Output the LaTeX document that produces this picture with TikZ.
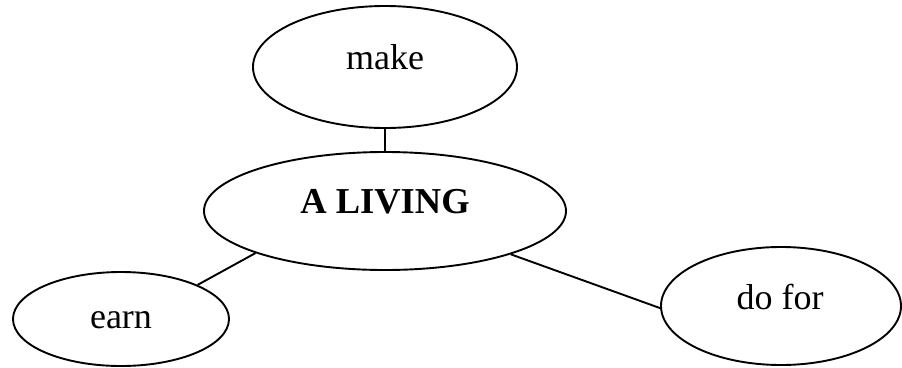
\documentclass[tikz,border=0pt]{standalone}
\usepackage{fontspec}
\setmainfont{Liberation Serif}
\usetikzlibrary{shapes.geometric}

\tikzset{
  bubble/.style={draw, ellipse, line width=1.9pt, inner sep=0pt},
  word/.style={anchor=base, inner sep=0pt, font=\fontsize{36}{40}\selectfont},
  link/.style={line width=1.9pt}
}

\begin{document}
\begin{tikzpicture}[x=1pt, y=-1pt]
  \useasboundingbox (0,0) rectangle (902,367);

  % ellipses
  \node[bubble, minimum width=264pt, minimum height=122pt] (make)   at (385,67)  {};
  \node[bubble, minimum width=362pt, minimum height=118pt] (living) at (385,211) {};
  \node[bubble, minimum width=216pt, minimum height=94pt]  (earn)   at (121,319) {};
  \node[bubble, minimum width=240pt, minimum height=118pt] (dofor)  at (781,306) {};

  % labels
  \node[word] (maketext)   at (385,69)  {make};
  \node[word, font=\fontsize{36.5}{40}\selectfont\bfseries] (livingtext) at (385,213) {A LIVING};
  \node[word] (earntext)   at (121,328) {earn};
  \node[word] (dofortext)  at (780,309) {do for};

  % connectors
  \draw[link] (make.south) -- (living.north);
  \draw[link] (earn.24) -- (living.198);
  \draw[link] (living.341) -- (dofor.181);
\end{tikzpicture}
\end{document}
